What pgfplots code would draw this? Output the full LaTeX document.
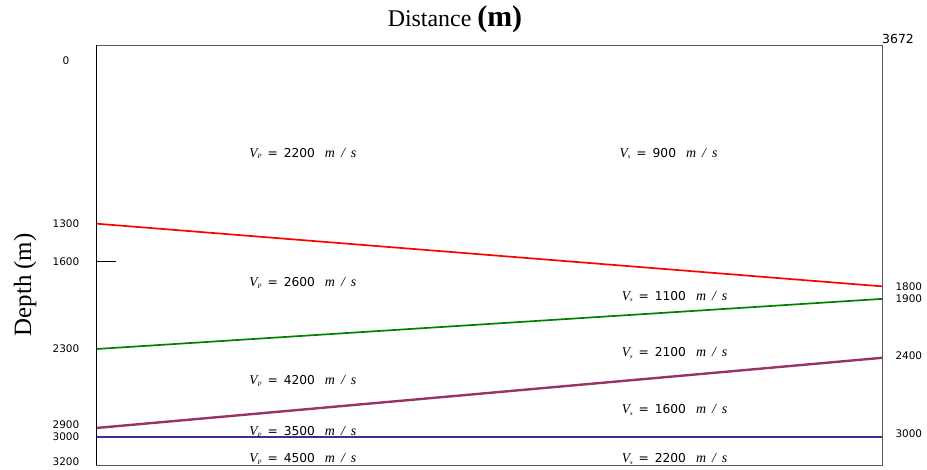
\documentclass[border=0pt]{standalone}
\usepackage{pgfplots}
\pgfplotsset{compat=1.18}
\usepackage{fontspec}
\setmainfont{Liberation Serif}
\newfontfamily\dejavu{DejaVu Sans}
\newcommand{\tf}{\dejavu\fontsize{10.5}{12}\selectfont}
\newcommand{\af}{\dejavu\fontsize{12.3}{14}\selectfont}
\newcommand{\titlef}{\rmfamily\fontsize{24}{28}\selectfont}
\newcommand{\titlem}{\rmfamily\bfseries\fontsize{30}{32}\selectfont}
\newcommand{\depthf}{\rmfamily\fontsize{25}{28}\selectfont}
\definecolor{lgreen}{RGB}{0,128,0}
\definecolor{lpurple}{RGB}{153,51,102}
\definecolor{lblue}{RGB}{51,51,153}
\newcommand{\vel}[2]{{\rmfamily\fontsize{13.5}{15}\selectfont\itshape V}\raisebox{-0.2ex}{\rmfamily\fontsize{6.5}{7}\selectfont\itshape #1}\hspace{6bp}{\af=\hspace{6bp}#2}\hspace{10bp}{\rmfamily\fontsize{14}{15}\selectfont\itshape m\hspace{6bp}/\hspace{6bp}s}}
\begin{document}
\begin{tikzpicture}
\useasboundingbox (0,0) rectangle (927bp,470bp);
\begin{axis}[
  at={(96bp,5bp)}, anchor=south west,
  width=786bp, height=420bp, scale only axis,
  xmin=0, xmax=3672, ymin=-125, ymax=3225, y dir=reverse,
  axis line style={black!65},
  xtick=\empty,
  ytick={0,1300,1600,2300,2900,3000,3200},
  yticklabels={0,1300,1600,2300,2900,3000,3200},
  major tick length=0pt,
  yticklabel style={font=\tf, anchor=center, xshift=-30bp},
  clip=false,
]
\addplot[red, line width=1.7bp] coordinates {(0,1300) (3672,1800)};
\addplot[lgreen, line width=1.7bp] coordinates {(0,2300) (3672,1900)};
\addplot[lpurple, line width=2.4bp] coordinates {(0,2930) (3672,2370)};
\addplot[lblue, line width=1.9bp] coordinates {(0,3000) (3672,3000)};
\addplot[black, line width=0.6bp] coordinates {(0,1600) (95,1600)};
\addplot[black, line width=0.9bp] coordinates {(0,-125) (0,3225)};

\node[anchor=west, font=\af] at (axis cs:700,742) {\vel{P}{2200}};
\node[anchor=west, font=\af] at (axis cs:2430,742) {\vel{s}{900}};
\node[anchor=west, font=\af] at (axis cs:700,1772) {\vel{P}{2600}};
\node[anchor=west, font=\af] at (axis cs:2440,1883) {\vel{s}{1100}};
\node[anchor=west, font=\af] at (axis cs:2440,2330) {\vel{s}{2100}};
\node[anchor=west, font=\af] at (axis cs:700,2554) {\vel{P}{4200}};
\node[anchor=west, font=\af] at (axis cs:2440,2785) {\vel{s}{1600}};
\node[anchor=west, font=\af] at (axis cs:700,2961) {\vel{P}{3500}};
\node[anchor=west, font=\af] at (axis cs:700,3176) {\vel{P}{4500}};
\node[anchor=west, font=\af] at (axis cs:2440,3176) {\vel{s}{2200}};

\node[anchor=west, font=\tf] at (axis cs:3672,1804) [xshift=10bp] {1800};
\node[anchor=west, font=\tf] at (axis cs:3672,1899) [xshift=10bp] {1900};
\node[anchor=west, font=\tf] at (axis cs:3672,2354) [xshift=10bp] {2400};
\node[anchor=west, font=\tf] at (axis cs:3672,2977) [xshift=10bp] {3000};
\node[anchor=south west, inner sep=1bp, font=\dejavu\fontsize{12.5}{14}\selectfont] at (axis cs:3672,-125) [xshift=-1bp] {3672};

\node[font=\depthf, rotate=90] at (axis cs:-331,1788) {Depth (m)};
\node[anchor=base, font=\titlef] at (axis cs:1677,-125) [yshift=18bp] {Distance {\titlem (m)}};
\end{axis}
\end{tikzpicture}
\end{document}
